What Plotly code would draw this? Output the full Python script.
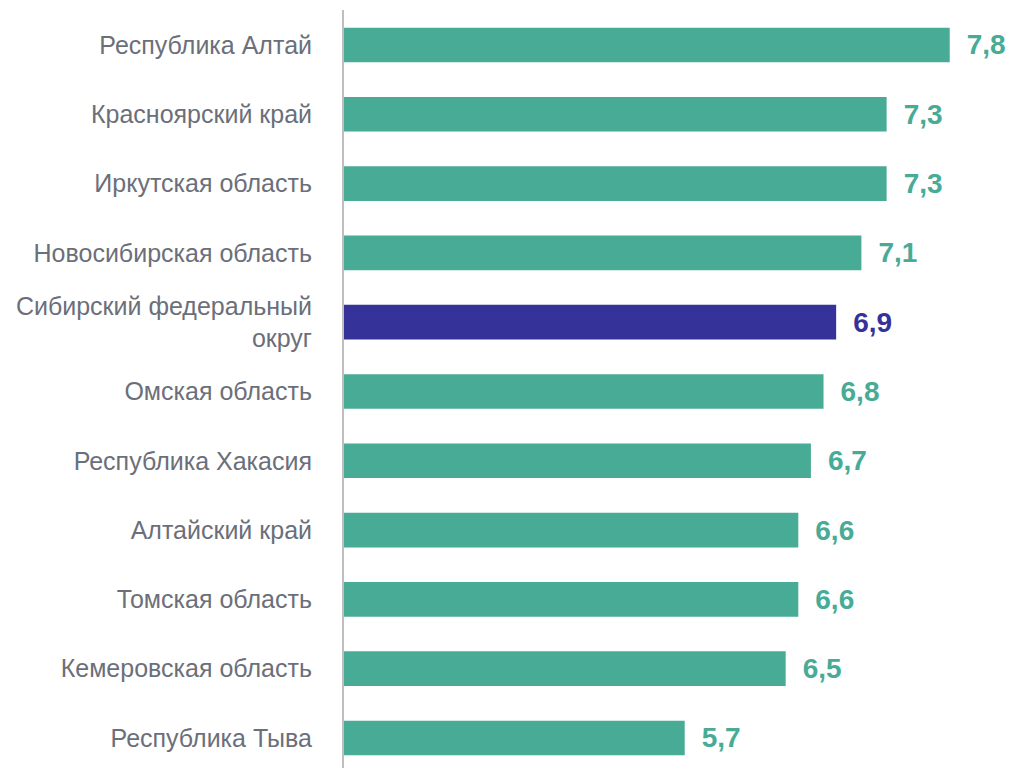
import plotly.graph_objects as go

regions = ["Республика Алтай", "Красноярский край", "Иркутская область",
           "Новосибирская область", "Сибирский федеральный<br>округ", "Омская область",
           "Республика Хакасия", "Алтайский край", "Томская область",
           "Кемеровская область", "Республика Тыва"]
values = [7.8, 7.3, 7.3, 7.1, 6.9, 6.8, 6.7, 6.6, 6.6, 6.5, 5.7]
labels = ["7,8", "7,3", "7,3", "7,1", "6,9", "6,8", "6,7", "6,6", "6,6", "6,5", "5,7"]
highlight = "Сибирский федеральный<br>округ"

TEAL = "#47AB96"
NAVY = "#35329A"
colors = [NAVY if r == highlight else TEAL for r in regions]
FONT = "Liberation Sans, Arial, sans-serif"

fig = go.Figure(go.Bar(
    y=regions, x=values, orientation="h",
    marker=dict(color=colors, line=dict(width=0)),
    text=["\u2002<b>" + t + "</b>" for t in labels],
    textposition="outside", cliponaxis=False,
    textfont=dict(family=FONT, size=28, color=colors),
    width=0.5,
))

fig.update_layout(
    width=1015, height=768,
    margin=dict(l=344, r=10, t=10, b=0),
    plot_bgcolor="white", paper_bgcolor="white",
    showlegend=False,
    font=dict(family=FONT),
)
fig.update_xaxes(range=[3.0, 8.238], visible=False, showgrid=False, zeroline=False)
fig.update_yaxes(
    categoryorder="array", categoryarray=regions[::-1],
    range=[-0.433, 10.505], automargin=False,
    showline=True, linecolor="#BFBFBF", linewidth=2,
    showgrid=False, ticks="", ticklabelstandoff=25,
    tickfont=dict(family=FONT, size=25, color="#6B6F7A"),
)

fig.write_html("out.html", config={"displayModeBar": False},
               post_script="document.body.style.margin='0px';document.body.style.overflow='hidden';")
